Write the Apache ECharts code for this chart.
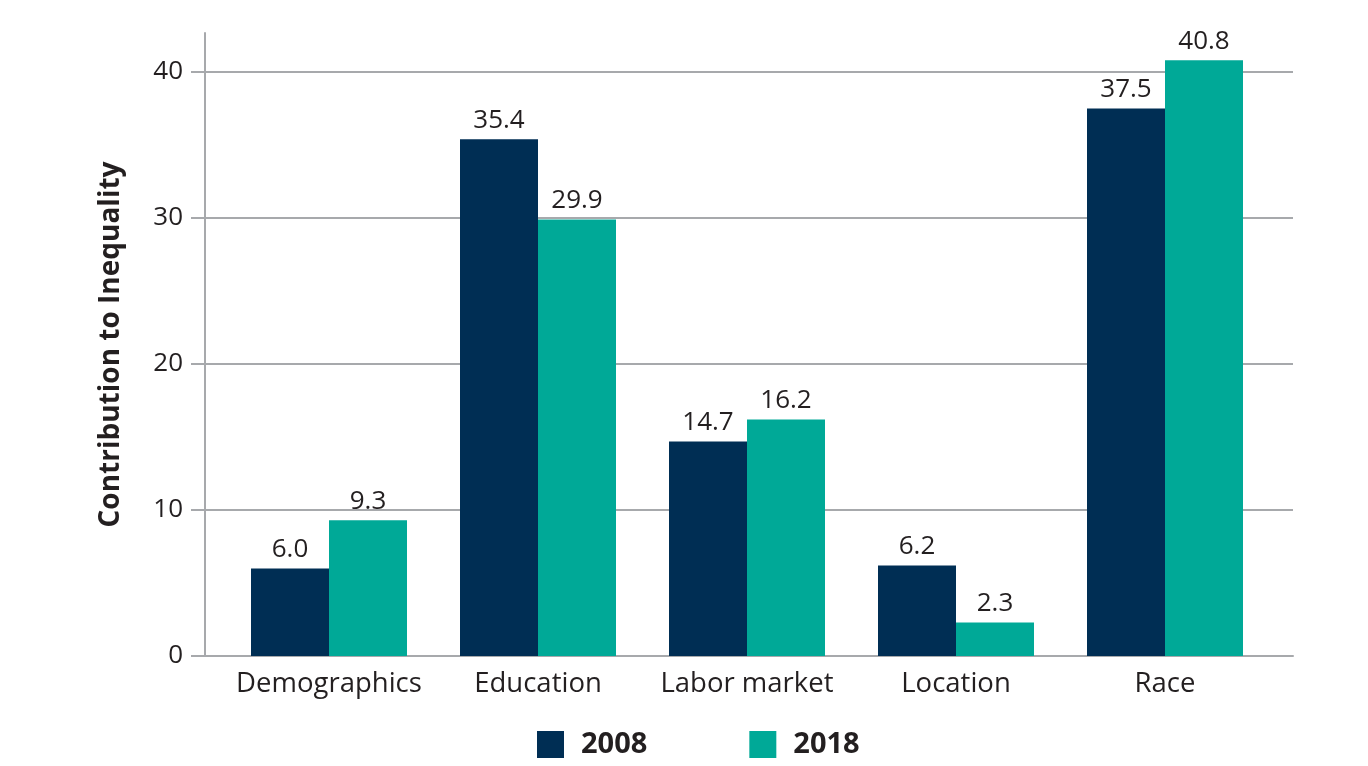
<!DOCTYPE html>
<html>
<head>
    <meta charset="UTF-8">
    <title>Contribution to Inequality</title>
    <script src="https://cdn.jsdelivr.net/npm/echarts@6/dist/echarts.min.js"></script>
    <style type="text/css">
    * { margin: 0; padding: 0; }
    body { background-color: #ffffff; }
    #chart { width: 1368px; height: 766px; }
    </style>
</head>
<body>
    <div id="chart"></div>
    <script>
        // data
        var categories = ['Demographics', 'Education', 'Labor market', 'Location', 'Race'];
        var years = ['2008', '2018'];
        var values2008 = [6.0, 35.4, 14.7, 6.2, 37.5];
        var values2018 = [9.3, 29.9, 16.2, 2.3, 40.8];

        var gray = '#a7a9ac';
        var ink = '#231f20';
        var font = 'Open Sans';

        var chart = echarts.init(document.getElementById('chart'), null, {renderer: 'canvas'});

        function barLabel() {
            return {
                show: true,
                position: 'top',
                distance: 6,
                color: ink,
                fontFamily: font,
                fontSize: 26,
                formatter: function (p) { return p.value.toFixed(1); }
            };
        }

        var option = {
            animation: false,
            textStyle: { fontFamily: font },
            grid: [
                // gridlines + ticks + bottom line
                { left: 205, right: 75, top: 72, bottom: 110 },
                // y axis line reaching above 40
                { left: 205, right: 75, top: 33, bottom: 110 },
                // bars
                { left: 224.5, right: 98.5, top: 72, bottom: 110 }
            ],
            xAxis: [
                {
                    gridIndex: 0, type: 'value', min: 0, max: 1,
                    axisLine: { show: true, lineStyle: { color: gray, width: 2 } },
                    axisTick: { show: false }, axisLabel: { show: false }, splitLine: { show: false }
                },
                {
                    gridIndex: 1, type: 'value', min: 0, max: 1, show: false
                },
                {
                    gridIndex: 2, type: 'category', data: categories,
                    axisLine: { show: false }, axisTick: { show: false },
                    axisLabel: { interval: 0, color: ink, fontFamily: font, fontSize: 27.5, margin: 14 }
                }
            ],
            yAxis: [
                {
                    gridIndex: 0, type: 'value', min: 0, max: 40, interval: 10,
                    axisLine: { show: false },
                    axisTick: { show: true, length: 14, lineStyle: { color: gray, width: 2 } },
                    axisLabel: { color: ink, fontFamily: font, fontSize: 26, margin: 22 },
                    splitLine: { show: true, lineStyle: { color: gray, width: 2 } }
                },
                {
                    gridIndex: 1, type: 'value', min: 0, max: 1,
                    name: 'Contribution to Inequality',
                    nameLocation: 'middle',
                    nameGap: 80,
                    nameTextStyle: { color: ink, fontFamily: font, fontSize: 28, fontWeight: 'bold' },
                    axisLine: { show: true, lineStyle: { color: gray, width: 2 } },
                    axisTick: { show: false }, axisLabel: { show: false }, splitLine: { show: false }
                },
                {
                    gridIndex: 2, type: 'value', min: 0, max: 40, show: false
                }
            ],
            legend: {
                data: years,
                left: 532,
                top: 725,
                icon: 'rect',
                itemWidth: 27,
                itemHeight: 27,
                itemGap: 102,
                textStyle: { color: ink, fontFamily: font, fontSize: 29, fontWeight: 'bold', padding: [0, 0, 0, 12] }
            },
            series: [
                {
                    name: years[0], type: 'bar', xAxisIndex: 2, yAxisIndex: 2,
                    data: values2008, barWidth: 78, barGap: '0%', clip: false,
                    itemStyle: { color: '#002e54' },
                    label: barLabel()
                },
                {
                    name: years[1], type: 'bar', xAxisIndex: 2, yAxisIndex: 2,
                    data: values2018, barWidth: 78, barGap: '0%', clip: false,
                    itemStyle: { color: '#00a997' },
                    label: barLabel()
                }
            ]
        };

        chart.setOption(option);
    </script>
</body>
</html>
